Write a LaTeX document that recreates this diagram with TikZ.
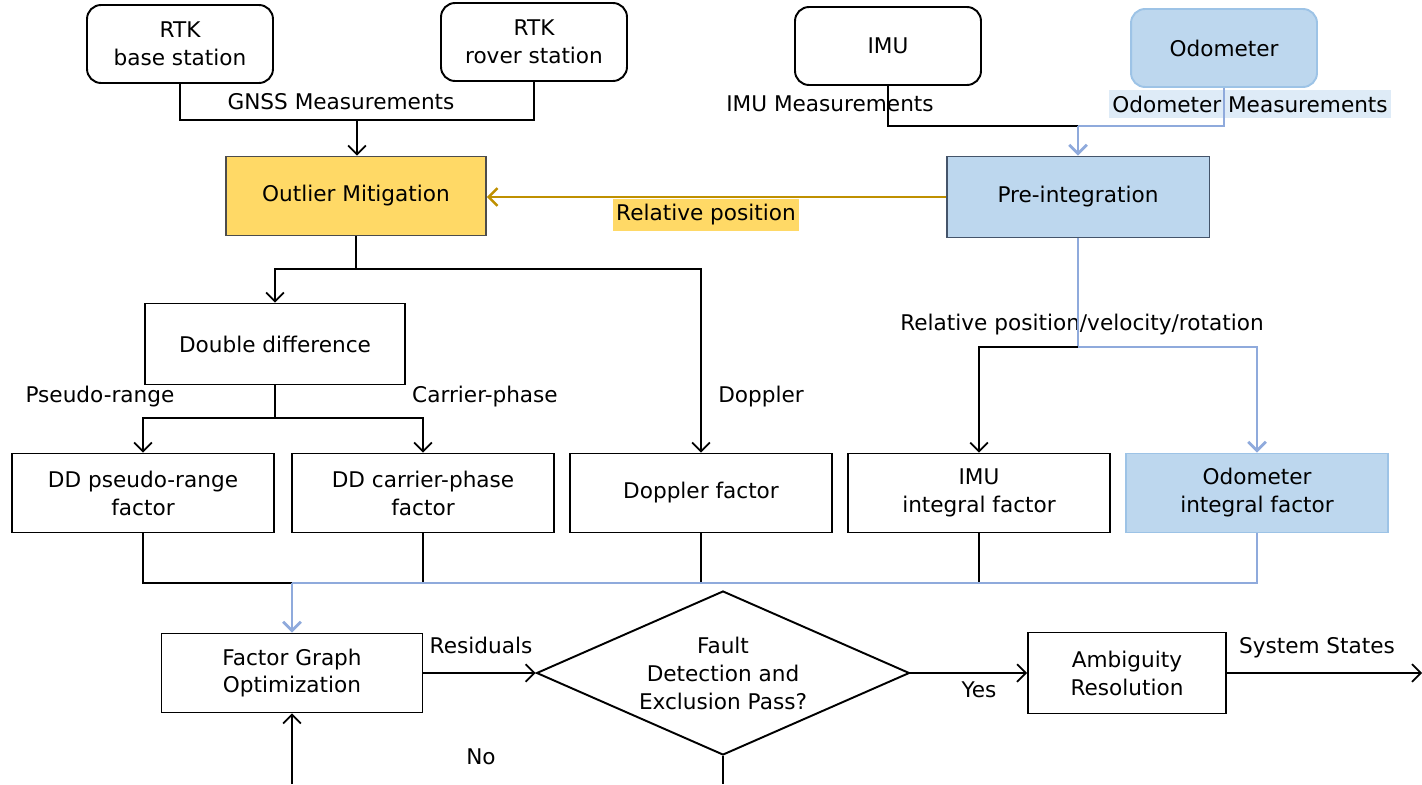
\documentclass[tikz,border=0pt]{standalone}
\usepackage{fontspec}
\setmainfont{DejaVu Sans}
\usetikzlibrary{shapes.geometric,arrows.meta}

\definecolor{goldfill}{HTML}{FFD966}
\definecolor{goldline}{HTML}{BF9000}
\definecolor{odofill}{HTML}{BDD7EE}
\definecolor{odoedge}{HTML}{9DC3E6}
\definecolor{odoline}{HTML}{8FAADC}
\definecolor{odolabel}{HTML}{DEEBF7}
\definecolor{preedge}{HTML}{44546A}

\tikzset{
  block/.style={draw, line width=1.1pt, inner sep=0pt, align=center, minimum width=5.24cm, minimum height=1.58cm},
  sensor/.style={block, rounded corners=8pt, minimum width=3.72cm, minimum height=1.56cm},
  decision/.style={draw, line width=1.1pt, shape=diamond, aspect=2.27, inner sep=0pt, align=center, minimum width=7.46cm, minimum height=3.28cm},
  tag/.style={inner xsep=2pt, inner ysep=3pt},
  link/.style={line width=1pt},
  linkarr/.style={link, -{Straight Barb[length=5pt,width=10pt]}},
  odolink/.style={line width=1.6pt, odoline},
  odoarr/.style={odolink, -{Straight Barb[length=5pt,width=10pt]}},
  goldarr/.style={line width=1.4pt, goldline, -{Straight Barb[length=5pt,width=10pt]}},
}

\begin{document}
\begin{tikzpicture}[x=0.02cm, y=-0.02cm, font=\fontsize{12.3}{15.9}\selectfont]
\useasboundingbox (0,0) rectangle (1422,784);

% sensors
\node[sensor] (base) at (180,44) {RTK\\base station};
\node[sensor] (rover) at (534,42) {RTK\\rover station};
\node[sensor] (imu) at (888,46) {IMU};
\node[sensor, fill=odofill, draw=odoedge] (odo) at (1224,48) {Odometer};

% processing
\node[block, minimum width=5.2cm, fill=goldfill, draw=black!70] (outlier) at (356,196) {Outlier Mitigation};
\node[block, minimum width=5.26cm, minimum height=1.62cm, fill=odofill, draw=preedge] (pre) at (1078,197) {Pre-integration};
\node[block, minimum width=5.2cm, minimum height=1.62cm] (dd) at (275,344) {Double difference};

% factors
\node[block] (ddpr) at (143,493) {DD pseudo-range\\factor};
\node[block] (ddcp) at (423,493) {DD carrier-phase\\factor};
\node[block] (doppler) at (701,493) {Doppler factor};
\node[block] (imuint) at (979,493) {IMU\\integral factor};
\node[block, fill=odofill, draw=odoedge] (odoint) at (1257,493) {Odometer\\integral factor};

% optimization
\node[block, minimum width=5.22cm] (fgo) at (292,673) {Factor Graph\\Optimization};
\node[decision] (fault) at (723,673) {Fault\\Detection and\\Exclusion Pass?};
\node[block, minimum width=3.96cm, minimum height=1.62cm] (ambig) at (1127,673) {Ambiguity\\Resolution};

% labels
\node[tag] (gnsslbl) at (341,102) {GNSS Measurements};
\node[tag] (imulbl) at (830,104) {IMU Measurements};
\node[tag, fill=odolabel] (odolbl) at (1250,104) {Odometer Measurements};
\node[tag, fill=goldfill] (rellbl) at (706,215) {Relative position};
\node[tag] (rpvrlbl) at (1082,325) {Relative position/velocity/rotation};
\node[tag] (prlbl) at (100,397) {Pseudo-range};
\node[tag] (cplbl) at (485,397) {Carrier-phase};
\node[tag] (dopplbl) at (761,397) {Doppler};
\node[tag] (reslbl) at (481,645) {Residuals};
\node[tag] (yeslbl) at (979,690) {Yes};
\node[tag] (sslbl) at (1317,648) {System States};
\node[tag] (nolbl) at (481,757) {No};

% GNSS branch
\coordinate (gnss) at (357,120);
\draw[link] (base.south) |- (gnss) -| (rover.south);
\draw[linkarr] (gnss) -- (gnss |- outlier.north);

% inertial branch
\coordinate (imujoin) at (1078,126);
\draw[link] (imu.south) |- (imujoin);
\draw[odolink] (odo.south) |- (imujoin);
\draw[odoarr] (imujoin) -- (pre.north);
\draw[goldarr] (pre.west) -- (pre.west -| outlier.east);

\coordinate (split) at (356,269);
\draw[link] (outlier.south) -- (split);
\draw[linkarr] (split) -| (dd.north);
\draw[linkarr] (split) -| (doppler.north);

\coordinate (ddsplit) at (275,418);
\draw[link] (dd.south) -- (ddsplit);
\draw[linkarr] (ddsplit) -| (ddpr.north);
\draw[linkarr] (ddsplit) -| (ddcp.north);

\coordinate (presplit) at (1078,347);
\draw[odolink] (pre.south) -- (presplit);
\draw[linkarr] (presplit) -| (imuint.north);
\draw[odoarr] (presplit) -| (odoint.north);

% collect factors
\coordinate (collect) at (292,583);
\draw[link] (ddpr.south) |- (collect);
\draw[link] (ddcp.south) -- (ddcp.south |- collect);
\draw[link] (doppler.south) -- (doppler.south |- collect);
\draw[link] (imuint.south) -- (imuint.south |- collect);
\draw[odolink] (odoint.south) |- (collect);
\draw[odoarr] (collect) -- (fgo.north);

\draw[linkarr] (fgo.east) -- (fault.west);
\draw[linkarr] (fault.east) -- (ambig.west);
\coordinate (states) at (1422,673);
\draw[linkarr] (ambig.east) -- (states);
\coordinate (noout) at (723,784);
\coordinate (noback) at (292,784);
\draw[link] (fault.south) -- (noout);
\draw[linkarr] (noback) -- (fgo.south);
\end{tikzpicture}
\end{document}
